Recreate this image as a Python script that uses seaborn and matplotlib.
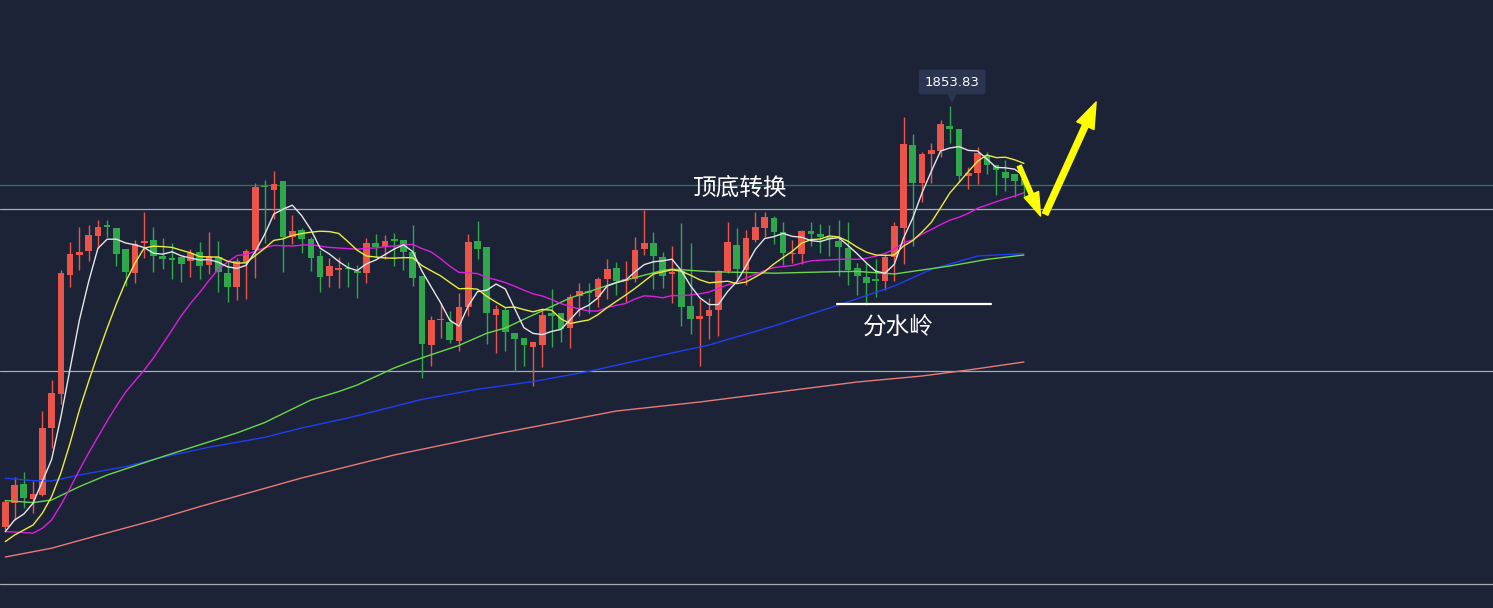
import matplotlib
matplotlib.use("Agg")
import matplotlib.pyplot as plt
import numpy as np
import pandas as pd
import seaborn as sns

# ---------------- data ----------------
opens = [
    1643.4, 1655.7, 1664.9, 1657.4, 1659.5, 1693.2, 1709.9, 1769.7, 1779.7, 1781.7,
    1789.2, 1794.5, 1792.9, 1782.4, 1770.7, 1785.5, 1787.0, 1778.9, 1777.5, 1778.5,
    1776.4, 1781.0, 1774.7, 1778.4, 1770.4, 1763.7, 1776.2, 1782.0, 1814.2, 1812.0,
    1816.5, 1788.7, 1792.0, 1787.5, 1779.0, 1769.2, 1772.2, 1772.7, 1771.7, 1770.7,
    1785.5, 1783.7, 1787.5, 1787.0, 1781.0, 1769.0, 1734.5, 1747.0, 1746.2, 1736.5,
    1753.7, 1786.5, 1783.4, 1749.5, 1752.0, 1740.4, 1738.2, 1733.7, 1734.5, 1750.7,
    1750.4, 1743.2, 1759.0, 1761.0, 1758.7, 1767.5, 1772.9, 1766.5, 1767.5, 1782.5,
    1785.4, 1778.7, 1769.9, 1771.7, 1754.0, 1747.7, 1749.2, 1752.0, 1771.5, 1784.5,
    1772.0, 1787.0, 1793.2, 1798.0, 1791.0, 1779.9, 1780.0, 1791.5, 1790.0, 1788.5,
    1786.5, 1783.0, 1772.9, 1768.4, 1767.0, 1766.5, 1778.7, 1793.2, 1834.5, 1815.4,
    1830.0, 1831.7, 1844.0, 1842.5, 1819.2, 1820.5, 1829.5, 1824.5, 1821.2, 1820.0,
    1817.5]
highs = [
    1657.0, 1668.7, 1671.2, 1666.7, 1701.5, 1717.0, 1771.9, 1785.9, 1793.5, 1794.5,
    1797.0, 1797.0, 1793.0, 1782.5, 1787.0, 1800.9, 1793.4, 1787.9, 1785.4, 1778.5,
    1782.7, 1786.0, 1791.0, 1786.5, 1776.2, 1778.0, 1782.5, 1815.7, 1817.0, 1821.4,
    1816.5, 1799.5, 1792.9, 1788.7, 1782.0, 1778.2, 1778.4, 1775.9, 1774.5, 1787.9,
    1790.0, 1789.5, 1790.5, 1787.0, 1794.5, 1769.0, 1749.0, 1755.7, 1751.5, 1760.4,
    1790.0, 1796.5, 1783.4, 1754.5, 1753.7, 1740.4, 1738.2, 1736.2, 1752.5, 1762.4,
    1750.4, 1759.9, 1765.4, 1765.4, 1768.4, 1777.4, 1776.0, 1776.5, 1788.4, 1802.0,
    1790.9, 1781.2, 1784.0, 1795.4, 1785.4, 1757.4, 1757.9, 1772.0, 1796.0, 1793.0,
    1792.0, 1801.0, 1801.0, 1799.0, 1796.0, 1787.0, 1792.0, 1796.0, 1795.0, 1794.5,
    1797.0, 1796.0, 1775.4, 1775.5, 1777.4, 1779.9, 1795.9, 1848.4, 1840.0, 1831.2,
    1835.7, 1847.0, 1853.83, 1842.5, 1823.7, 1833.7, 1831.2, 1824.5, 1827.0, 1820.0,
    1817.5]
lows = [
    1642.0, 1647.0, 1653.2, 1650.4, 1659.0, 1683.2, 1704.9, 1763.7, 1772.0, 1776.7,
    1783.2, 1788.4, 1774.2, 1764.0, 1765.7, 1777.9, 1770.9, 1772.4, 1767.4, 1766.2,
    1768.4, 1767.7, 1769.9, 1760.9, 1756.2, 1756.9, 1757.4, 1768.2, 1785.5, 1797.5,
    1771.2, 1785.0, 1780.4, 1771.7, 1761.2, 1763.7, 1763.2, 1763.7, 1758.2, 1765.7,
    1778.4, 1777.5, 1774.2, 1772.0, 1764.2, 1717.9, 1724.2, 1737.9, 1735.4, 1731.7,
    1749.2, 1777.5, 1734.9, 1730.7, 1731.7, 1721.7, 1724.2, 1714.2, 1723.7, 1733.4,
    1735.8, 1733.2, 1749.2, 1750.4, 1753.7, 1757.4, 1759.5, 1756.2, 1766.2, 1779.5,
    1762.5, 1763.2, 1755.7, 1744.2, 1740.0, 1724.2, 1737.5, 1739.0, 1770.4, 1767.0,
    1764.5, 1786.2, 1788.7, 1785.0, 1774.5, 1775.4, 1775.0, 1784.0, 1780.5, 1779.0,
    1769.0, 1764.5, 1759.5, 1754.5, 1758.7, 1762.0, 1766.5, 1774.9, 1784.2, 1805.9,
    1815.5, 1828.7, 1835.7, 1816.2, 1812.4, 1815.0, 1820.0, 1809.5, 1811.7, 1808.7,
    1808.7]
closes = [
    1656.2, 1664.4, 1658.2, 1660.0, 1692.9, 1710.5, 1770.5, 1779.9, 1780.9, 1789.5,
    1793.4, 1793.4, 1780.2, 1771.2, 1785.2, 1786.4, 1779.2, 1777.7, 1777.2, 1775.2,
    1780.7, 1774.2, 1778.9, 1770.9, 1763.7, 1776.7, 1781.5, 1813.4, 1813.4, 1815.0,
    1788.7, 1791.5, 1787.5, 1778.2, 1768.7, 1774.0, 1773.0, 1772.4, 1770.7, 1785.5,
    1783.5, 1786.5, 1786.5, 1781.2, 1768.2, 1734.9, 1747.0, 1747.5, 1737.0, 1753.4,
    1785.9, 1782.5, 1750.7, 1752.5, 1741.2, 1737.4, 1734.5, 1735.9, 1749.5, 1749.2,
    1742.5, 1758.4, 1761.4, 1760.7, 1767.5, 1772.4, 1766.5, 1767.3, 1782.0, 1785.4,
    1779.2, 1769.2, 1771.2, 1753.7, 1747.5, 1749.0, 1752.0, 1771.5, 1786.0, 1772.5,
    1788.0, 1793.5, 1798.5, 1791.0, 1780.5, 1780.5, 1791.5, 1790.0, 1788.5, 1787.5,
    1783.5, 1772.0, 1769.2, 1765.5, 1766.7, 1778.5, 1794.0, 1835.0, 1815.7, 1830.0,
    1832.0, 1844.9, 1842.7, 1819.2, 1820.4, 1830.7, 1824.5, 1822.0, 1818.2, 1816.5,
    1814.5]

ma5 = [
    1641.2, 1647.0, 1650.0, 1655.4, 1666.3, 1677.2, 1698.4, 1722.7, 1746.9, 1766.2,
    1782.8, 1787.4, 1787.4, 1785.5, 1784.6, 1783.2, 1780.4, 1779.9, 1781.1, 1779.1,
    1778.0, 1777.0, 1777.2, 1775.9, 1773.6, 1772.8, 1774.3, 1781.2, 1789.7, 1800.0,
    1802.4, 1804.4, 1799.2, 1792.2, 1782.9, 1780.0, 1776.3, 1773.2, 1771.7, 1775.1,
    1777.0, 1779.7, 1782.5, 1784.6, 1781.2, 1771.4, 1763.5, 1755.7, 1746.9, 1743.9,
    1754.1, 1761.2, 1761.9, 1765.0, 1762.5, 1752.8, 1743.2, 1740.3, 1739.7, 1741.3,
    1742.3, 1747.1, 1752.2, 1754.4, 1758.1, 1764.0, 1765.7, 1766.9, 1771.1, 1774.7,
    1776.1, 1776.6, 1777.4, 1771.7, 1764.1, 1758.1, 1754.7, 1754.7, 1761.2, 1766.2,
    1774.0, 1782.3, 1787.7, 1788.7, 1790.3, 1788.8, 1788.4, 1786.7, 1786.2, 1787.6,
    1788.2, 1784.3, 1780.1, 1775.5, 1771.4, 1770.4, 1774.8, 1787.9, 1798.0, 1810.6,
    1821.3, 1831.5, 1833.0, 1833.7, 1831.8, 1831.5, 1827.5, 1823.3, 1823.1, 1822.4,
    1819.1]
ma10 = [
    1636.2, 1639.5, 1642.0, 1644.5, 1650.4, 1658.7, 1670.5, 1685.5, 1702.0, 1716.3,
    1730.0, 1742.9, 1755.1, 1766.2, 1775.4, 1783.0, 1783.9, 1783.7, 1783.3, 1781.9,
    1780.6, 1778.7, 1778.5, 1778.5, 1776.4, 1775.4, 1775.6, 1779.2, 1782.8, 1786.8,
    1787.6, 1789.3, 1790.2, 1790.9, 1791.4, 1791.2, 1790.3, 1786.2, 1781.9, 1779.0,
    1778.5, 1778.0, 1777.9, 1778.2, 1778.1, 1774.2, 1771.6, 1769.1, 1765.8, 1762.6,
    1762.8, 1762.4, 1758.8, 1755.9, 1753.2, 1753.5, 1752.2, 1751.1, 1752.3, 1751.9,
    1747.6, 1745.2, 1746.2, 1747.0, 1749.7, 1753.2, 1756.4, 1759.5, 1762.8, 1766.4,
    1770.0, 1771.1, 1772.1, 1771.4, 1769.4, 1767.1, 1765.6, 1766.0, 1766.4, 1765.2,
    1766.0, 1768.5, 1771.2, 1775.0, 1778.3, 1781.4, 1785.4, 1787.2, 1787.5, 1789.0,
    1788.5, 1786.4, 1783.4, 1780.9, 1779.5, 1779.3, 1779.5, 1784.0, 1786.7, 1791.0,
    1795.8, 1803.1, 1810.5, 1815.8, 1821.2, 1826.4, 1829.5, 1828.2, 1828.4, 1827.1,
    1825.3]
ma20 = [
    1641.2, 1641.0, 1640.7, 1640.4, 1642.9, 1647.0, 1654.5, 1663.0, 1672.0, 1680.5,
    1688.5, 1696.5, 1704.0, 1711.0, 1716.5, 1722.0, 1728.0, 1735.0, 1742.0, 1749.1,
    1755.3, 1760.8, 1766.8, 1772.4, 1775.9, 1779.2, 1779.8, 1781.4, 1783.1, 1784.3,
    1784.1, 1784.0, 1784.4, 1784.7, 1783.9, 1783.3, 1783.0, 1782.7, 1782.4, 1782.9,
    1783.0, 1783.7, 1784.0, 1784.6, 1784.8, 1782.7, 1781.0, 1777.7, 1773.9, 1770.8,
    1770.6, 1770.2, 1768.3, 1767.1, 1765.7, 1763.9, 1761.9, 1760.1, 1759.0, 1757.2,
    1755.2, 1753.8, 1752.5, 1751.5, 1751.5, 1753.3, 1754.3, 1755.3, 1757.5, 1759.1,
    1758.8, 1758.1, 1759.2, 1759.2, 1759.5, 1760.1, 1761.0, 1762.8, 1764.6, 1765.8,
    1768.0, 1769.8, 1771.7, 1773.2, 1773.8, 1774.2, 1775.5, 1776.6, 1776.9, 1777.1,
    1777.3, 1777.4, 1777.3, 1777.9, 1778.9, 1780.3, 1782.4, 1785.6, 1787.1, 1790.0,
    1792.2, 1794.7, 1796.9, 1798.4, 1800.3, 1802.9, 1804.5, 1806.1, 1807.6, 1809.0,
    1810.6]

ma60_idx = [0, 3, 5, 8, 11, 17, 25, 28, 33, 36, 38, 42, 44, 47, 49, 52, 54, 57, 61,
            66, 71, 72, 76, 83, 90, 92, 96, 102, 106, 110]
ma60 = [1656.7, 1655.7, 1657.0, 1663.7, 1669.5, 1678.7, 1690.5, 1695.7, 1707.0,
        1711.2, 1714.5, 1723.0, 1726.5, 1731.2, 1734.3, 1740.4, 1743.0, 1749.5,
        1758.0, 1765.8, 1771.8, 1772.4, 1771.2, 1770.4, 1771.2, 1771.3, 1770.0,
        1774.0, 1777.3, 1779.5]
ma120_idx = [0, 3, 5, 8, 13, 17, 22, 28, 32, 37, 45, 51, 57, 63, 71, 76, 83, 90, 96,
             100, 105, 110]
ma120 = [1667.9, 1666.7, 1666.5, 1669.5, 1673.7, 1678.4, 1683.4, 1688.3, 1693.0,
         1698.0, 1707.3, 1712.4, 1716.2, 1721.3, 1729.5, 1734.5, 1744.0, 1754.5,
         1764.0, 1772.3, 1779.0, 1780.2]
ma250_idx = [0, 5, 10, 16, 21, 28, 32, 42, 53, 66, 75, 86, 92, 99, 104, 110]
ma250 = [1628.5, 1632.9, 1639.3, 1646.8, 1653.7, 1662.8, 1668.0, 1679.5, 1690.0,
         1701.5, 1706.0, 1712.5, 1716.0, 1719.0, 1722.0, 1726.0]

ref_green = 1814.75
ref_grays = [1802.5, 1721.5, 1615.0]

label_top = "顶底转换"
label_mid = "分水岭"
peak_text = "1853.83"

# ---------------- style ----------------
BG = "#1c2337"
UP = "#eb5449"
DOWN = "#2ea84a"

sns.set_theme(style="dark", rc={"axes.facecolor": BG, "figure.facecolor": BG})
plt.rcParams["font.family"] = ["Noto Sans CJK SC", "DejaVu Sans"]

fig = plt.figure(figsize=(14.93, 6.08), dpi=100)
ax = fig.add_axes([0, 0, 1, 1])
ax.set_facecolor(BG)

n = len(closes)
idx = np.arange(n)
o = np.array(opens); c = np.array(closes)
h = np.array(highs); l = np.array(lows)
up = c >= o
colors = np.where(up, UP, DOWN)

# reference lines
ax.axhline(ref_green, color="#2c7a52", lw=0.9, zorder=1)
for g in ref_grays:
    ax.axhline(g, color="#a9acb4", lw=0.9, zorder=1)

# candles
ax.vlines(idx, l, h, colors=colors, lw=1.0, zorder=2)
bottoms = np.minimum(o, c)
heights = np.maximum(np.abs(c - o), 0.6)
ax.bar(idx, heights, bottom=bottoms, width=0.72, color=colors, linewidth=0, zorder=3)

# moving averages via seaborn
df = pd.DataFrame({"i": idx, "ma5": ma5, "ma10": ma10, "ma20": ma20})
sns.lineplot(x=ma250_idx, y=ma250, ax=ax, color="#e87a78", lw=1.0, zorder=4, legend=False)
sns.lineplot(x=ma120_idx, y=ma120, ax=ax, color="#1f3ff0", lw=1.0, zorder=4, legend=False)
sns.lineplot(x=ma60_idx, y=ma60, ax=ax, color="#6bd64b", lw=1.0, zorder=4, legend=False)
sns.lineplot(data=df, x="i", y="ma20", ax=ax, color="#dc1fdc", lw=1.0, zorder=5, legend=False)
sns.lineplot(data=df, x="i", y="ma10", ax=ax, color="#ecec3a", lw=1.0, zorder=5, legend=False)
sns.lineplot(data=df, x="i", y="ma5", ax=ax, color="#e6e6e6", lw=1.0, zorder=6, legend=False)

# annotations
ax.text(79.4, 1813.0, label_top, color="white", fontsize=17, ha="center", va="center",
        family=["Noto Sans CJK SC", "DejaVu Sans"], zorder=8)
ax.text(96.4, 1743.5, label_mid, color="white", fontsize=17, ha="center", va="center",
        family=["Noto Sans CJK SC", "DejaVu Sans"], zorder=8)
ax.plot([89.8, 106.4], [1755.0, 1755.0], color="white", lw=1.6, zorder=8)

# peak tooltip
peak_i = int(np.argmax(h))
ax.text(peak_i + 0.25, 1866.0, peak_text, color="white", fontsize=9.5, ha="center",
        va="center", family="DejaVu Sans", zorder=9,
        bbox=dict(boxstyle="round,pad=0.45,rounding_size=0.25", fc="#2b3550", ec="none"))
ax.plot([peak_i + 0.25], [1857.8], marker="v", markersize=7, color="#2b3550",
        markeredgewidth=0, zorder=9)

# yellow arrows
ax.annotate("", xy=(111.8, 1799.0), xytext=(109.5, 1824.0),
            arrowprops=dict(arrowstyle="simple,head_width=0.8,head_length=1.2,tail_width=0.22",
                            color="#ffff00", mutation_scale=14, shrinkA=0, shrinkB=0), zorder=9)
ax.annotate("", xy=(117.8, 1856.0), xytext=(112.3, 1800.0),
            arrowprops=dict(arrowstyle="simple,head_width=0.8,head_length=1.1,tail_width=0.25",
                            color="#ffff00", mutation_scale=17, shrinkA=0, shrinkB=0), zorder=9)

ax.set_xlim(-0.572, 160.66)
ax.set_ylim(1603, 1907)
ax.axis("off")

fig.savefig("out.png", dpi=100, facecolor=BG)
